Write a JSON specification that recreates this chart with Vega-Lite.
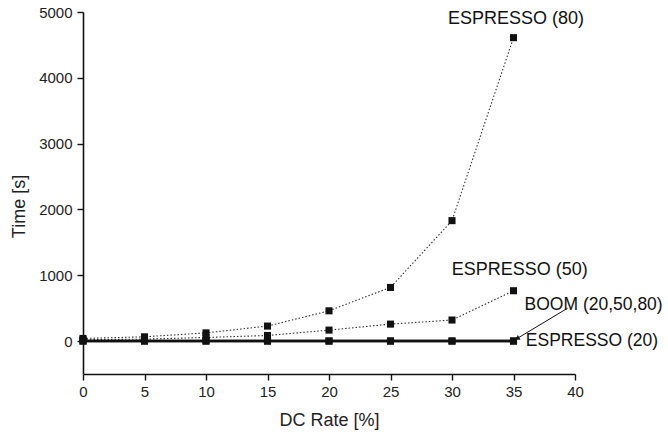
{
  "$schema": "https://vega.github.io/schema/vega-lite/v6.json",
  "autosize": "none",
  "width": 492,
  "height": 362,
  "padding": {"left": 83, "top": 12, "right": 93, "bottom": 60},
  "background": "white",
  "config": {
    "view": {"stroke": null},
    "font": "Liberation Sans",
    "axis": {
      "domainColor": "#111", "domainWidth": 1.6, "tickColor": "#111", "tickWidth": 1.4,
      "labelFont": "Liberation Sans", "labelFontSize": 15, "labelColor": "#222", "labelFlush": false, "labelOverlap": false,
      "titleFont": "Liberation Sans", "titleFontSize": 18, "titleFontWeight": "normal", "titleColor": "#222",
      "grid": false
    }
  },
  "datasets": {
    "pts": [
      {"series": "E80", "rate": 0, "time": 40},
      {"series": "E80", "rate": 5, "time": 65},
      {"series": "E80", "rate": 10, "time": 125},
      {"series": "E80", "rate": 15, "time": 228},
      {"series": "E80", "rate": 20, "time": 460},
      {"series": "E80", "rate": 25, "time": 815},
      {"series": "E80", "rate": 30, "time": 1830},
      {"series": "E80", "rate": 35, "time": 4610},
      {"series": "E50", "rate": 0, "time": 20},
      {"series": "E50", "rate": 5, "time": 30},
      {"series": "E50", "rate": 10, "time": 55},
      {"series": "E50", "rate": 15, "time": 85},
      {"series": "E50", "rate": 20, "time": 167},
      {"series": "E50", "rate": 25, "time": 258},
      {"series": "E50", "rate": 30, "time": 320},
      {"series": "E50", "rate": 35, "time": 765},
      {"series": "E20", "rate": 0, "time": 0},
      {"series": "E20", "rate": 5, "time": 0},
      {"series": "E20", "rate": 10, "time": 0},
      {"series": "E20", "rate": 15, "time": 0},
      {"series": "E20", "rate": 20, "time": 0},
      {"series": "E20", "rate": 25, "time": 0},
      {"series": "E20", "rate": 30, "time": 0},
      {"series": "E20", "rate": 35, "time": 0},
      {"series": "BOOM", "rate": 0, "time": 2},
      {"series": "BOOM", "rate": 5, "time": 2},
      {"series": "BOOM", "rate": 10, "time": 2},
      {"series": "BOOM", "rate": 15, "time": 2},
      {"series": "BOOM", "rate": 20, "time": 2},
      {"series": "BOOM", "rate": 25, "time": 2},
      {"series": "BOOM", "rate": 30, "time": 2},
      {"series": "BOOM", "rate": 35, "time": 2}
    ],
    "labelsC": [
      {"text": "ESPRESSO (80)", "rate": 35.2, "time": 4900},
      {"text": "ESPRESSO (50)", "rate": 35.5, "time": 1080}
    ],
    "labelsL": [
      {"text": "BOOM (20,50,80)", "rate": 35.9, "time": 550},
      {"text": "ESPRESSO (20)", "rate": 36.0, "time": -5}
    ],
    "arrow": [
      {"rate": 39.4, "time": 500, "rate2": 35.3, "time2": 40}
    ]
  },
  "layer": [
    {
      "data": {"name": "pts"},
      "transform": [{"filter": "datum.series === 'E80' || datum.series === 'E50'"}],
      "mark": {"type": "line", "color": "#333", "strokeWidth": 1.1, "strokeDash": [1.5, 2]},
      "encoding": {
        "x": {"field": "rate", "type": "quantitative", "scale": {"domain": [0, 40], "nice": false, "zero": false},
              "axis": {"title": "DC Rate [%]", "values": [0, 2.5, 5, 7.5, 10, 12.5, 15, 17.5, 20, 22.5, 25, 27.5, 30, 32.5, 35, 37.5, 40],
                       "labelExpr": "datum.value % 5 === 0 ? datum.label : ''",
                       "tickSize": {"condition": {"test": "datum.value % 5 === 0", "value": 6}, "value": 4},
                       "labelPadding": 4, "titleBaseline": "middle", "titleY": 46}},
        "y": {"field": "time", "type": "quantitative", "scale": {"domain": [-500, 5000], "nice": false, "zero": false},
              "axis": {"title": "Time [s]", "values": [0, 1000, 2000, 3000, 4000, 5000], "format": "d",
                       "tickSize": 6,
                       "labelPadding": 5, "titleBaseline": "middle", "titleX": -64, "titleY": 194}},
        "detail": {"field": "series"}
      }
    },
    {
      "data": {"name": "pts"},
      "transform": [{"filter": "datum.series === 'E20' || datum.series === 'BOOM'"}],
      "mark": {"type": "line", "color": "#111", "strokeWidth": 2.5},
      "encoding": {
        "x": {"field": "rate", "type": "quantitative"},
        "y": {"field": "time", "type": "quantitative"},
        "detail": {"field": "series"}
      }
    },
    {
      "data": {"name": "pts"},
      "mark": {"type": "point", "shape": "square", "filled": true, "color": "#111", "size": 50, "opacity": 1},
      "encoding": {
        "x": {"field": "rate", "type": "quantitative"},
        "y": {"field": "time", "type": "quantitative"}
      }
    },
    {
      "data": {"name": "labelsC"},
      "mark": {"type": "text", "fontSize": 18, "color": "#111", "baseline": "middle", "align": "center", "font": "Liberation Sans"},
      "encoding": {
        "x": {"field": "rate", "type": "quantitative"},
        "y": {"field": "time", "type": "quantitative"},
        "text": {"field": "text"}
      }
    },
    {
      "data": {"name": "labelsL"},
      "mark": {"type": "text", "fontSize": 17.5, "color": "#111", "baseline": "middle", "align": "left", "font": "Liberation Sans"},
      "encoding": {
        "x": {"field": "rate", "type": "quantitative"},
        "y": {"field": "time", "type": "quantitative"},
        "text": {"field": "text"}
      }
    },
    {
      "data": {"name": "arrow"},
      "mark": {"type": "rule", "color": "#111", "strokeWidth": 1},
      "encoding": {
        "x": {"field": "rate", "type": "quantitative"},
        "y": {"field": "time", "type": "quantitative"},
        "x2": {"field": "rate2"},
        "y2": {"field": "time2"}
      }
    },
    {
      "data": {"name": "arrow"},
      "mark": {"type": "point", "shape": "triangle-up", "filled": true, "color": "#111", "size": 30, "angle": 240, "opacity": 1},
      "encoding": {
        "x": {"field": "rate2", "type": "quantitative"},
        "y": {"field": "time2", "type": "quantitative"}
      }
    }
  ]
}
